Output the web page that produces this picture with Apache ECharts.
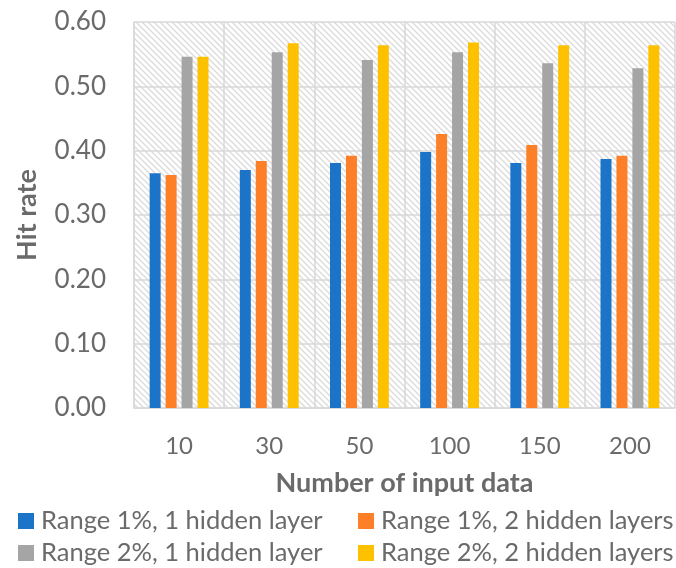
<!DOCTYPE html>
<html>
<head>
<meta charset="utf-8">
<script src="https://cdn.jsdelivr.net/npm/echarts@6/dist/echarts.min.js"></script>
<style>html,body{margin:0;padding:0;background:#fff}#c{width:676px;height:568px}</style>
</head>
<body>
<div id="c"></div>
<script>
var categories = ['10', '30', '50', '100', '150', '200'];
var seriesNames = ['Range 1%, 1 hidden layer', 'Range 1%, 2 hidden layers', 'Range 2%, 1 hidden layer', 'Range 2%, 2 hidden layers'];
var r1h1 = [0.365, 0.370, 0.381, 0.398, 0.381, 0.387];
var r1h2 = [0.362, 0.384, 0.392, 0.426, 0.409, 0.392];
var r2h1 = [0.546, 0.553, 0.541, 0.553, 0.536, 0.528];
var r2h2 = [0.546, 0.567, 0.564, 0.568, 0.564, 0.564];
var yTicks = [0, 0.1, 0.2, 0.3, 0.4, 0.5, 0.6];
var colors = ['#1b74c8', '#fd7f28', '#a5a5a5', '#fdc100'];

var pc = document.createElement('canvas');
pc.width = 6; pc.height = 6;
var g = pc.getContext('2d');
g.fillStyle = '#ffffff'; g.fillRect(0, 0, 6, 6);
g.strokeStyle = '#dcdcdc'; g.lineWidth = 1.4;
g.beginPath();
g.moveTo(-3, -3); g.lineTo(9, 9);
g.moveTo(-9, -3); g.lineTo(3, 9);
g.moveTo(3, -3); g.lineTo(15, 9);
g.stroke();

var font = 'Lato, "Open Sans", sans-serif';
var txt = '#6a6a6a';
var chart = echarts.init(document.getElementById('c'), null, {renderer: 'canvas'});
var data = [r1h1, r1h2, r2h1, r2h2];
chart.setOption({
  animation: false,
  color: colors,
  grid: {left: 134, right: 1, top: 22, bottom: 160, show: true,
         backgroundColor: {image: pc, repeat: 'repeat'}, borderWidth: 0},
  legend: {
    left: 18, top: 505, width: 720, itemGap: 0, itemWidth: 16, itemHeight: 16,
    orient: 'horizontal', padding: 0,
    icon: 'rect',
    textStyle: {fontFamily: font, fontSize: 25.5, color: txt, width: 317, overflow: 'none',
                lineHeight: 32, padding: [0, 0, 0, 2]},
    data: seriesNames
  },
  xAxis: {
    type: 'category', data: categories,
    axisLine: {show: true, lineStyle: {color: '#d9d9d9', width: 1.5}},
    axisTick: {show: false},
    splitLine: {show: true, interval: 0, lineStyle: {color: '#d9d9d9', width: 1.5}},
    axisLabel: {fontFamily: font, fontSize: 24, color: txt, margin: 26},
    name: 'Number of input data', nameLocation: 'middle', nameGap: 62,
    nameTextStyle: {fontFamily: font, fontSize: 27, fontWeight: 'bold', color: txt}
  },
  yAxis: {
    type: 'value', min: yTicks[0], max: yTicks[yTicks.length - 1], interval: 0.1,
    axisLine: {show: true, lineStyle: {color: '#d9d9d9', width: 1.5}},
    axisTick: {show: false},
    splitLine: {show: true, lineStyle: {color: '#d9d9d9', width: 1.5}},
    axisLabel: {fontFamily: font, fontSize: 26, color: txt, margin: 28,
                formatter: function (v) { return v.toFixed(2); }},
    name: 'Hit rate', nameLocation: 'middle', nameGap: 93,
    nameTextStyle: {fontFamily: font, fontSize: 27, fontWeight: 'bold', color: txt}
  },
  series: seriesNames.map(function (n, i) {
    return {name: n, type: 'bar', data: data[i], barWidth: 11, barGap: '45%',
            itemStyle: {color: colors[i]}};
  })
});
</script>
</body>
</html>
